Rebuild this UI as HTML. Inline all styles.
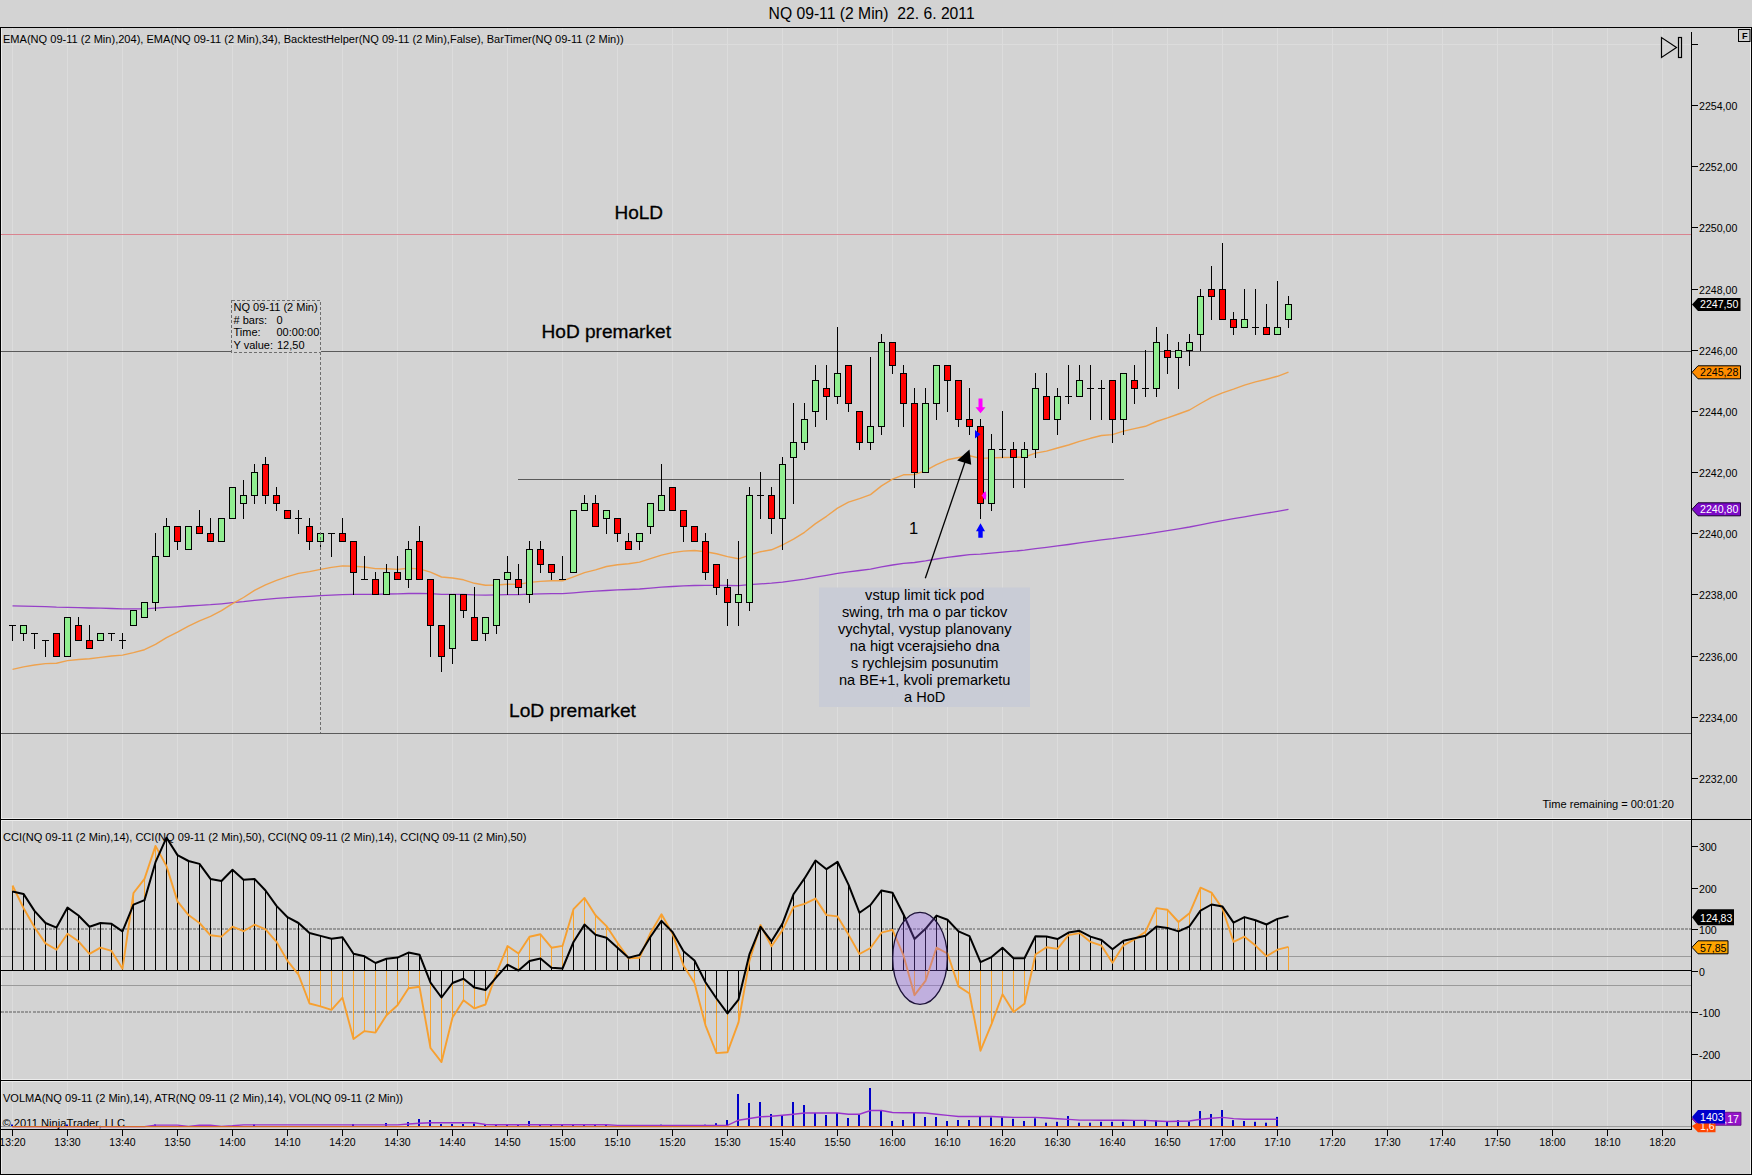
<!DOCTYPE html>
<html><head><meta charset="utf-8"><title>NQ 09-11 (2 Min)</title>
<style>html,body{margin:0;padding:0;background:#d3d3d3;}body{width:1752px;height:1175px;overflow:hidden;}svg{display:block;}text{font-family:"Liberation Sans", Arial, sans-serif;}</style>
</head><body>
<svg width="1752" height="1175" viewBox="0 0 1752 1175">
<rect x="0" y="0" width="1752" height="1175" fill="#d3d3d3"/>
<text x="871.6" y="18.5" font-size="15.7" text-anchor="middle" fill="#000" xml:space="preserve" style="white-space:pre">NQ 09-11 (2 Min)  22. 6. 2011</text>
<path d="M12.5 28V819M12.5 820V1080M12.5 1081V1129M67.5 28V819M67.5 820V1080M67.5 1081V1129M122.5 28V819M122.5 820V1080M122.5 1081V1129M177.5 28V819M177.5 820V1080M177.5 1081V1129M232.5 28V819M232.5 820V1080M232.5 1081V1129M287.5 28V819M287.5 820V1080M287.5 1081V1129M342.5 28V819M342.5 820V1080M342.5 1081V1129M397.5 28V819M397.5 820V1080M397.5 1081V1129M452.5 28V819M452.5 820V1080M452.5 1081V1129M507.5 28V819M507.5 820V1080M507.5 1081V1129M562.5 28V819M562.5 820V1080M562.5 1081V1129M617.5 28V819M617.5 820V1080M617.5 1081V1129M672.5 28V819M672.5 820V1080M672.5 1081V1129M727.5 28V819M727.5 820V1080M727.5 1081V1129M782.5 28V819M782.5 820V1080M782.5 1081V1129M837.5 28V819M837.5 820V1080M837.5 1081V1129M892.5 28V819M892.5 820V1080M892.5 1081V1129M947.5 28V819M947.5 820V1080M947.5 1081V1129M1002.5 28V819M1002.5 820V1080M1002.5 1081V1129M1057.5 28V819M1057.5 820V1080M1057.5 1081V1129M1112.5 28V819M1112.5 820V1080M1112.5 1081V1129M1167.5 28V819M1167.5 820V1080M1167.5 1081V1129M1222.5 28V819M1222.5 820V1080M1222.5 1081V1129M1277.5 28V819M1277.5 820V1080M1277.5 1081V1129M1332.5 28V819M1332.5 820V1080M1332.5 1081V1129M1387.5 28V819M1387.5 820V1080M1387.5 1081V1129M1442.5 28V819M1442.5 820V1080M1442.5 1081V1129M1497.5 28V819M1497.5 820V1080M1497.5 1081V1129M1552.5 28V819M1552.5 820V1080M1552.5 1081V1129M1607.5 28V819M1607.5 820V1080M1607.5 1081V1129M1662.5 28V819M1662.5 820V1080M1662.5 1081V1129" stroke="#dcdcdc" stroke-width="1" fill="none" shape-rendering="crispEdges"/>
<path d="M1 44.5H1691" stroke="#dcdcdc" stroke-width="1" shape-rendering="crispEdges"/>
<path d="M0 27.5H1752M0.5 27V1175M1751.5 27V1175M0 1174.5H1752" stroke="#000" stroke-width="1" fill="none" shape-rendering="crispEdges"/>
<path d="M1.5 28V1174M1750.5 28V1174M1 820.5H1691M1 1081.5H1691M1 818.5H1691M1 1079.5H1691" stroke="#ececec" stroke-width="1" fill="none" shape-rendering="crispEdges"/>
<path d="M0 819.5H1752M0 1080.5H1752M0 1129.5H1692" stroke="#000" stroke-width="1" shape-rendering="crispEdges"/>
<path d="M1691.5 32V1130" stroke="#000" stroke-width="1" shape-rendering="crispEdges"/>
<path d="M1691 778.5H1698M1691 717.5H1698M1691 656.5H1698M1691 594.5H1698M1691 533.5H1698M1691 472.5H1698M1691 411.5H1698M1691 350.5H1698M1691 289.5H1698M1691 227.5H1698M1691 166.5H1698M1691 105.5H1698M1691 44.5H1698" stroke="#000" stroke-width="1" shape-rendering="crispEdges"/>
<g font-size="10.6" fill="#000"><text x="1699" y="782.5">2232,00</text><text x="1699" y="721.5">2234,00</text><text x="1699" y="660.5">2236,00</text><text x="1699" y="598.5">2238,00</text><text x="1699" y="537.5">2240,00</text><text x="1699" y="476.5">2242,00</text><text x="1699" y="415.5">2244,00</text><text x="1699" y="354.5">2246,00</text><text x="1699" y="293.5">2248,00</text><text x="1699" y="231.5">2250,00</text><text x="1699" y="170.5">2252,00</text><text x="1699" y="109.5">2254,00</text></g>
<path d="M1691 846.5H1698M1691 888.5H1698M1691 929.5H1698M1691 971.5H1698M1691 1012.5H1698M1691 1054.5H1698" stroke="#000" stroke-width="1" shape-rendering="crispEdges"/>
<g font-size="10.6" fill="#000"><text x="1699" y="850.5">300</text><text x="1699" y="892.5">200</text><text x="1699" y="933.5">100</text><text x="1699" y="975.5">0</text><text x="1699" y="1016.5">-100</text><text x="1699" y="1058.5">-200</text></g>
<path d="M12.5 1130V1136M67.5 1130V1136M122.5 1130V1136M177.5 1130V1136M232.5 1130V1136M287.5 1130V1136M342.5 1130V1136M397.5 1130V1136M452.5 1130V1136M507.5 1130V1136M562.5 1130V1136M617.5 1130V1136M672.5 1130V1136M727.5 1130V1136M782.5 1130V1136M837.5 1130V1136M892.5 1130V1136M947.5 1130V1136M1002.5 1130V1136M1057.5 1130V1136M1112.5 1130V1136M1167.5 1130V1136M1222.5 1130V1136M1277.5 1130V1136M1332.5 1130V1136M1387.5 1130V1136M1442.5 1130V1136M1497.5 1130V1136M1552.5 1130V1136M1607.5 1130V1136M1662.5 1130V1136" stroke="#000" stroke-width="1" shape-rendering="crispEdges"/>
<g font-size="10.5" fill="#000"><text x="12.5" y="1145.8" text-anchor="middle">13:20</text><text x="67.5" y="1145.8" text-anchor="middle">13:30</text><text x="122.5" y="1145.8" text-anchor="middle">13:40</text><text x="177.5" y="1145.8" text-anchor="middle">13:50</text><text x="232.5" y="1145.8" text-anchor="middle">14:00</text><text x="287.5" y="1145.8" text-anchor="middle">14:10</text><text x="342.5" y="1145.8" text-anchor="middle">14:20</text><text x="397.5" y="1145.8" text-anchor="middle">14:30</text><text x="452.5" y="1145.8" text-anchor="middle">14:40</text><text x="507.5" y="1145.8" text-anchor="middle">14:50</text><text x="562.5" y="1145.8" text-anchor="middle">15:00</text><text x="617.5" y="1145.8" text-anchor="middle">15:10</text><text x="672.5" y="1145.8" text-anchor="middle">15:20</text><text x="727.5" y="1145.8" text-anchor="middle">15:30</text><text x="782.5" y="1145.8" text-anchor="middle">15:40</text><text x="837.5" y="1145.8" text-anchor="middle">15:50</text><text x="892.5" y="1145.8" text-anchor="middle">16:00</text><text x="947.5" y="1145.8" text-anchor="middle">16:10</text><text x="1002.5" y="1145.8" text-anchor="middle">16:20</text><text x="1057.5" y="1145.8" text-anchor="middle">16:30</text><text x="1112.5" y="1145.8" text-anchor="middle">16:40</text><text x="1167.5" y="1145.8" text-anchor="middle">16:50</text><text x="1222.5" y="1145.8" text-anchor="middle">17:00</text><text x="1277.5" y="1145.8" text-anchor="middle">17:10</text><text x="1332.5" y="1145.8" text-anchor="middle">17:20</text><text x="1387.5" y="1145.8" text-anchor="middle">17:30</text><text x="1442.5" y="1145.8" text-anchor="middle">17:40</text><text x="1497.5" y="1145.8" text-anchor="middle">17:50</text><text x="1552.5" y="1145.8" text-anchor="middle">18:00</text><text x="1607.5" y="1145.8" text-anchor="middle">18:10</text><text x="1662.5" y="1145.8" text-anchor="middle">18:20</text></g>
<text x="3" y="43" font-size="11.05" fill="#000">EMA(NQ 09-11 (2 Min),204), EMA(NQ 09-11 (2 Min),34), BacktestHelper(NQ 09-11 (2 Min),False), BarTimer(NQ 09-11 (2 Min))</text>
<text x="3" y="840.5" font-size="11.05" fill="#000">CCI(NQ 09-11 (2 Min),14), CCI(NQ 09-11 (2 Min),50), CCI(NQ 09-11 (2 Min),14), CCI(NQ 09-11 (2 Min),50)</text>
<text x="3" y="1101.5" font-size="11.05" fill="#000">VOLMA(NQ 09-11 (2 Min),14), ATR(NQ 09-11 (2 Min),14), VOL(NQ 09-11 (2 Min))</text>
<text x="2.5" y="1126.6" font-size="11.2" fill="#000">© 2011 NinjaTrader, LLC</text>
<text x="1542.5" y="807.7" font-size="11.05" fill="#000">Time remaining = 00:01:20</text>
<path d="M1 234.5H1691" stroke="#d9838f" stroke-width="1" shape-rendering="crispEdges"/>
<path d="M1 351.5H231M321 351.5H1691" stroke="#5a5a5a" stroke-width="1" shape-rendering="crispEdges"/>
<path d="M518 479.5H1124" stroke="#5a5a5a" stroke-width="1" shape-rendering="crispEdges"/>
<path d="M1 733.5H1691" stroke="#5a5a5a" stroke-width="1" shape-rendering="crispEdges"/>
<g fill="#000" stroke="#000" stroke-width="0.3">
<text x="614.5" y="219.3" font-size="19">HoLD</text>
<text x="541.5" y="337.5" font-size="19.1">HoD premarket</text>
<text x="509" y="716.6" font-size="19.2">LoD premarket</text>
</g>
<polyline points="12.5,605.9 23.5,606.1 34.5,606.3 45.5,606.7 56.5,607.2 67.5,607.3 78.5,607.6 89.5,608.0 100.5,608.2 111.5,608.5 122.5,608.8 133.5,608.8 144.5,608.8 155.5,608.2 166.5,607.4 177.5,606.8 188.5,606.0 199.5,605.3 210.5,604.7 221.5,603.8 232.5,602.7 243.5,601.7 254.5,600.4 265.5,599.4 276.5,598.4 287.5,597.7 298.5,596.9 309.5,596.4 320.5,595.7 331.5,595.1 342.5,594.6 353.5,594.4 364.5,594.3 375.5,594.3 386.5,594.0 397.5,593.9 408.5,593.5 419.5,593.3 430.5,593.6 441.5,594.3 452.5,594.3 463.5,594.4 474.5,594.9 485.5,595.1 496.5,594.9 507.5,594.7 518.5,594.6 529.5,594.2 540.5,593.9 551.5,593.7 562.5,593.6 573.5,592.8 584.5,591.9 595.5,591.2 606.5,590.5 617.5,589.9 628.5,589.5 639.5,589.0 650.5,588.1 661.5,587.2 672.5,586.5 683.5,585.9 694.5,585.5 705.5,585.3 716.5,585.3 727.5,585.5 738.5,585.6 749.5,584.7 760.5,583.9 771.5,583.2 782.5,582.1 793.5,580.7 804.5,579.1 815.5,577.2 826.5,575.4 837.5,573.4 848.5,571.8 859.5,570.5 870.5,569.1 881.5,566.9 892.5,565.0 903.5,563.4 914.5,562.5 925.5,560.9 936.5,559.0 947.5,557.3 958.5,556.0 969.5,554.7 980.5,554.2 991.5,553.2 1002.5,552.2 1013.5,551.2 1024.5,550.2 1035.5,548.7 1046.5,547.4 1057.5,545.9 1068.5,544.5 1079.5,542.9 1090.5,541.4 1101.5,539.9 1112.5,538.7 1123.5,537.1 1134.5,535.6 1145.5,534.2 1156.5,532.3 1167.5,530.6 1178.5,528.9 1189.5,527.0 1200.5,524.8 1211.5,522.6 1222.5,520.6 1233.5,518.7 1244.5,516.8 1255.5,514.9 1266.5,513.2 1277.5,511.3 1288.5,509.3" fill="none" stroke="#9640c8" stroke-width="1.3" stroke-linejoin="round"/>
<polyline points="12.5,669.4 23.5,666.9 34.5,665.0 45.5,663.6 56.5,663.2 67.5,660.6 78.5,659.5 89.5,658.8 100.5,657.4 111.5,656.0 122.5,655.1 133.5,652.6 144.5,649.7 155.5,644.4 166.5,637.6 177.5,632.1 188.5,626.1 199.5,620.8 210.5,616.3 221.5,610.7 232.5,603.7 243.5,597.5 254.5,590.4 265.5,584.9 276.5,580.3 287.5,576.7 298.5,573.4 309.5,571.6 320.5,569.4 331.5,567.4 342.5,565.9 353.5,566.3 364.5,567.0 375.5,568.6 386.5,568.8 397.5,569.4 408.5,568.3 419.5,568.9 430.5,572.2 441.5,577.0 452.5,578.0 463.5,579.8 474.5,583.3 485.5,585.3 496.5,585.0 507.5,584.2 518.5,584.4 529.5,582.4 540.5,581.4 551.5,580.8 562.5,580.8 573.5,576.8 584.5,572.6 595.5,569.9 606.5,566.5 617.5,564.7 628.5,563.8 639.5,562.1 650.5,558.7 661.5,555.1 672.5,552.6 683.5,551.1 694.5,550.5 705.5,551.7 716.5,553.8 727.5,556.6 738.5,558.8 749.5,555.1 760.5,551.7 771.5,549.8 782.5,545.0 793.5,539.1 804.5,532.3 815.5,523.6 826.5,516.3 837.5,508.1 848.5,502.2 859.5,498.7 870.5,494.6 881.5,485.9 892.5,479.1 903.5,474.8 914.5,474.6 925.5,470.6 936.5,464.6 947.5,459.8 958.5,457.5 969.5,455.7 980.5,458.4 991.5,457.9 1002.5,457.5 1013.5,457.4 1024.5,457.0 1035.5,453.1 1046.5,451.1 1057.5,448.0 1068.5,445.0 1079.5,441.4 1090.5,438.3 1101.5,435.5 1112.5,434.6 1123.5,431.1 1134.5,428.6 1145.5,426.3 1156.5,421.5 1167.5,417.9 1178.5,414.0 1189.5,410.0 1200.5,403.5 1211.5,397.4 1222.5,392.9 1233.5,389.2 1244.5,385.2 1255.5,381.9 1266.5,379.2 1277.5,376.3 1288.5,372.1" fill="none" stroke="#eea24e" stroke-width="1.4" stroke-linejoin="round"/>
<path d="M12.5 625.5V641.0M23.5 633.5V641.0M34.5 633.5V649.0M45.5 640.5V657.0M78.5 617.0V625.5M89.5 625.0V640.5M111.5 633.5V641.0M122.5 633.0V640.5M122.5 640.5V649.0M155.5 533.0V556.5M155.5 602.5V611.0M166.5 518.0V526.5M177.5 541.5V550.0M199.5 510.0V526.5M210.5 518.0V533.5M243.5 480.0V495.5M243.5 503.5V519.0M254.5 464.0V472.5M254.5 495.5V504.0M265.5 457.0V464.5M265.5 495.5V504.0M276.5 487.0V495.5M276.5 503.5V511.0M298.5 510.0V518.5M298.5 518.5V534.0M309.5 518.0V526.5M309.5 541.5V550.0M320.5 541.5V550.0M331.5 533.5V557.0M342.5 518.0V533.5M353.5 572.5V595.0M364.5 556.0V579.5M375.5 572.0V579.5M386.5 564.0V572.5M397.5 556.0V572.5M408.5 541.0V549.5M408.5 579.5V588.0M419.5 526.0V541.5M430.5 625.5V657.0M441.5 656.5V672.0M452.5 648.5V664.0M463.5 610.5V618.0M474.5 587.0V617.5M485.5 633.5V641.0M496.5 625.5V634.0M507.5 556.0V572.5M507.5 579.5V595.0M518.5 564.0V579.5M518.5 587.5V595.0M529.5 541.0V549.5M529.5 594.5V603.0M540.5 541.0V549.5M540.5 564.5V573.0M551.5 572.5V580.0M562.5 556.0V579.5M584.5 495.0V503.5M595.5 495.0V503.5M606.5 518.5V534.0M617.5 533.5V542.0M628.5 533.0V541.5M639.5 541.5V550.0M650.5 526.5V534.0M661.5 464.0V495.5M683.5 526.5V542.0M705.5 533.0V541.5M705.5 572.5V580.0M716.5 587.5V595.0M727.5 579.0V587.5M727.5 602.5V626.0M738.5 541.0V594.5M738.5 602.5V626.0M749.5 487.0V495.5M749.5 602.5V611.0M760.5 472.0V495.5M760.5 495.5V519.0M771.5 487.0V495.5M771.5 518.5V534.0M782.5 457.0V464.5M782.5 518.5V550.0M793.5 403.0V442.5M793.5 457.5V504.0M804.5 403.0V419.5M804.5 442.5V450.0M815.5 365.0V380.5M815.5 411.5V427.0M826.5 365.0V388.5M826.5 396.5V420.0M837.5 327.0V373.5M837.5 396.5V404.0M848.5 403.5V412.0M859.5 442.5V450.0M870.5 357.0V426.5M870.5 442.5V450.0M881.5 334.0V342.5M881.5 426.5V435.0M892.5 365.5V374.0M903.5 365.0V373.5M903.5 403.5V427.0M914.5 388.0V403.5M914.5 472.5V488.0M925.5 388.0V403.5M936.5 403.5V420.0M947.5 380.5V412.0M958.5 419.5V427.0M969.5 388.0V419.5M969.5 426.5V435.0M980.5 419.0V426.5M980.5 503.5V519.0M991.5 434.0V449.5M991.5 503.5V511.0M1002.5 411.0V449.5M1002.5 449.5V458.0M1013.5 442.0V449.5M1013.5 457.5V488.0M1024.5 442.0V449.5M1024.5 457.5V488.0M1035.5 373.0V388.5M1035.5 449.5V458.0M1046.5 373.0V396.5M1057.5 388.0V396.5M1057.5 419.5V435.0M1068.5 365.0V396.5M1068.5 396.5V404.0M1079.5 365.0V380.5M1090.5 365.0V388.5M1090.5 388.5V420.0M1101.5 380.0V388.5M1101.5 388.5V420.0M1112.5 419.5V443.0M1123.5 419.5V435.0M1134.5 365.0V380.5M1134.5 388.5V404.0M1145.5 350.0V388.5M1145.5 388.5V397.0M1156.5 327.0V342.5M1156.5 388.5V397.0M1167.5 334.0V350.5M1167.5 357.5V374.0M1178.5 342.0V350.5M1178.5 357.5V389.0M1189.5 334.0V342.5M1189.5 350.5V366.0M1200.5 289.0V296.5M1200.5 334.5V351.0M1211.5 266.0V289.5M1211.5 296.5V320.0M1222.5 243.0V289.5M1233.5 312.0V319.5M1233.5 327.5V335.0M1244.5 289.0V319.5M1255.5 289.0V327.5M1255.5 327.5V335.0M1266.5 304.0V327.5M1277.5 281.0V327.5M1288.5 296.0V304.5M1288.5 319.5V328.0M9.0 625.5H16.0M31.0 633.5H38.0M42.0 640.5H49.0M108.0 633.5H115.0M119.0 640.5H126.0M295.0 518.5H302.0M328.0 533.5H335.0M361.0 579.5H368.0M559.0 579.5H566.0M757.0 495.5H764.0M999.0 449.5H1006.0M1065.0 396.5H1072.0M1087.0 388.5H1094.0M1098.0 388.5H1105.0M1142.0 388.5H1149.0M1252.0 327.5H1259.0" stroke="#000" stroke-width="1" fill="none" shape-rendering="crispEdges"/>
<g fill="#90ee90" stroke="#000" stroke-width="1" shape-rendering="crispEdges"><rect x="20.5" y="625.5" width="6" height="8.0"/><rect x="64.5" y="617.5" width="6" height="39.0"/><rect x="97.5" y="633.5" width="6" height="7.0"/><rect x="130.5" y="610.5" width="6" height="15.0"/><rect x="141.5" y="602.5" width="6" height="15.0"/><rect x="152.5" y="556.5" width="6" height="46.0"/><rect x="163.5" y="526.5" width="6" height="30.0"/><rect x="185.5" y="526.5" width="6" height="23.0"/><rect x="218.5" y="518.5" width="6" height="23.0"/><rect x="229.5" y="487.5" width="6" height="31.0"/><rect x="240.5" y="495.5" width="6" height="8.0"/><rect x="251.5" y="472.5" width="6" height="23.0"/><rect x="317.5" y="533.5" width="6" height="8.0"/><rect x="383.5" y="572.5" width="6" height="22.0"/><rect x="405.5" y="549.5" width="6" height="30.0"/><rect x="449.5" y="594.5" width="6" height="54.0"/><rect x="482.5" y="617.5" width="6" height="16.0"/><rect x="493.5" y="579.5" width="6" height="46.0"/><rect x="504.5" y="572.5" width="6" height="7.0"/><rect x="526.5" y="549.5" width="6" height="45.0"/><rect x="570.5" y="510.5" width="6" height="62.0"/><rect x="581.5" y="503.5" width="6" height="7.0"/><rect x="603.5" y="510.5" width="6" height="8.0"/><rect x="636.5" y="533.5" width="6" height="8.0"/><rect x="647.5" y="503.5" width="6" height="23.0"/><rect x="658.5" y="495.5" width="6" height="15.0"/><rect x="735.5" y="594.5" width="6" height="8.0"/><rect x="746.5" y="495.5" width="6" height="107.0"/><rect x="779.5" y="464.5" width="6" height="54.0"/><rect x="790.5" y="442.5" width="6" height="15.0"/><rect x="801.5" y="419.5" width="6" height="23.0"/><rect x="812.5" y="380.5" width="6" height="31.0"/><rect x="834.5" y="373.5" width="6" height="23.0"/><rect x="867.5" y="426.5" width="6" height="16.0"/><rect x="878.5" y="342.5" width="6" height="84.0"/><rect x="922.5" y="403.5" width="6" height="69.0"/><rect x="933.5" y="365.5" width="6" height="38.0"/><rect x="988.5" y="449.5" width="6" height="54.0"/><rect x="1021.5" y="449.5" width="6" height="8.0"/><rect x="1032.5" y="388.5" width="6" height="61.0"/><rect x="1054.5" y="396.5" width="6" height="23.0"/><rect x="1076.5" y="380.5" width="6" height="16.0"/><rect x="1120.5" y="373.5" width="6" height="46.0"/><rect x="1153.5" y="342.5" width="6" height="46.0"/><rect x="1175.5" y="350.5" width="6" height="7.0"/><rect x="1186.5" y="342.5" width="6" height="8.0"/><rect x="1197.5" y="296.5" width="6" height="38.0"/><rect x="1241.5" y="319.5" width="6" height="8.0"/><rect x="1274.5" y="327.5" width="6" height="7.0"/><rect x="1285.5" y="304.5" width="6" height="15.0"/></g>
<g fill="#ff0000" stroke="#000" stroke-width="1" shape-rendering="crispEdges"><rect x="53.5" y="633.5" width="6" height="23.0"/><rect x="75.5" y="625.5" width="6" height="15.0"/><rect x="86.5" y="640.5" width="6" height="8.0"/><rect x="174.5" y="526.5" width="6" height="15.0"/><rect x="196.5" y="526.5" width="6" height="7.0"/><rect x="207.5" y="533.5" width="6" height="8.0"/><rect x="262.5" y="464.5" width="6" height="31.0"/><rect x="273.5" y="495.5" width="6" height="8.0"/><rect x="284.5" y="510.5" width="6" height="8.0"/><rect x="306.5" y="526.5" width="6" height="15.0"/><rect x="339.5" y="533.5" width="6" height="8.0"/><rect x="350.5" y="541.5" width="6" height="31.0"/><rect x="372.5" y="579.5" width="6" height="15.0"/><rect x="394.5" y="572.5" width="6" height="7.0"/><rect x="416.5" y="541.5" width="6" height="38.0"/><rect x="427.5" y="579.5" width="6" height="46.0"/><rect x="438.5" y="625.5" width="6" height="31.0"/><rect x="460.5" y="594.5" width="6" height="16.0"/><rect x="471.5" y="617.5" width="6" height="23.0"/><rect x="515.5" y="579.5" width="6" height="8.0"/><rect x="537.5" y="549.5" width="6" height="15.0"/><rect x="548.5" y="564.5" width="6" height="8.0"/><rect x="592.5" y="503.5" width="6" height="23.0"/><rect x="614.5" y="518.5" width="6" height="15.0"/><rect x="625.5" y="541.5" width="6" height="8.0"/><rect x="669.5" y="487.5" width="6" height="23.0"/><rect x="680.5" y="510.5" width="6" height="16.0"/><rect x="691.5" y="526.5" width="6" height="15.0"/><rect x="702.5" y="541.5" width="6" height="31.0"/><rect x="713.5" y="564.5" width="6" height="23.0"/><rect x="724.5" y="587.5" width="6" height="15.0"/><rect x="768.5" y="495.5" width="6" height="23.0"/><rect x="823.5" y="388.5" width="6" height="8.0"/><rect x="845.5" y="365.5" width="6" height="38.0"/><rect x="856.5" y="411.5" width="6" height="31.0"/><rect x="889.5" y="342.5" width="6" height="23.0"/><rect x="900.5" y="373.5" width="6" height="30.0"/><rect x="911.5" y="403.5" width="6" height="69.0"/><rect x="944.5" y="365.5" width="6" height="15.0"/><rect x="955.5" y="380.5" width="6" height="39.0"/><rect x="966.5" y="419.5" width="6" height="7.0"/><rect x="977.5" y="426.5" width="6" height="77.0"/><rect x="1010.5" y="449.5" width="6" height="8.0"/><rect x="1043.5" y="396.5" width="6" height="23.0"/><rect x="1109.5" y="380.5" width="6" height="39.0"/><rect x="1131.5" y="380.5" width="6" height="8.0"/><rect x="1164.5" y="350.5" width="6" height="7.0"/><rect x="1208.5" y="289.5" width="6" height="7.0"/><rect x="1219.5" y="289.5" width="6" height="30.0"/><rect x="1230.5" y="319.5" width="6" height="8.0"/><rect x="1263.5" y="327.5" width="6" height="7.0"/></g>
<rect x="231.5" y="300.5" width="89" height="52" fill="#d3d3d3" stroke="#6e6e6e" stroke-width="1" stroke-dasharray="3,2" shape-rendering="crispEdges"/>
<path d="M320.5 352V733" stroke="#6e6e6e" stroke-width="1" stroke-dasharray="3,2" shape-rendering="crispEdges"/>
<g font-size="11" fill="#000"><text x="233.5" y="310.7">NQ 09-11 (2 Min)</text><text x="233.5" y="323.6"># bars:</text><text x="276.5" y="323.6">0</text><text x="233.5" y="336.4">Time:</text><text x="276.5" y="336.4">00:00:00</text><text x="233.5" y="349.3">Y value:</text><text x="277" y="349.3">12,50</text></g>
<rect x="819" y="587.5" width="211" height="119.5" fill="#c9ccd6"/>
<g font-size="14.6" fill="#000"><text x="924.7" y="599.5" text-anchor="middle">vstup limit tick pod</text><text x="924.7" y="616.6" text-anchor="middle">swing, trh ma o par tickov</text><text x="924.7" y="633.7" text-anchor="middle">vychytal, vystup planovany</text><text x="924.7" y="650.8" text-anchor="middle">na higt vcerajsieho dna</text><text x="924.7" y="667.9" text-anchor="middle">s rychlejsim posunutim</text><text x="924.7" y="685.0" text-anchor="middle">na BE+1, kvoli premarketu</text><text x="924.7" y="702.1" text-anchor="middle">a HoD</text></g>
<path d="M925.3 578.3L965 462" stroke="#000" stroke-width="1.3"/>
<path d="M969.5 449.5L957.2 460.4L971.2 464.7Z" fill="#000"/>
<text x="909" y="534.2" font-size="16.5" fill="#000">1</text>
<path d="M978.5 398.6h4v8.6h3l-5 6l-5-6h3z" fill="#ff00ff"/>
<path d="M976 531.3l4.5-8l4.5 8h-2.3v6.5h-4.4v-6.5z" fill="#0000ff"/>
<path d="M975 430l5.5 4.3l-5.5 4.3z" fill="#0000ff"/>
<path d="M985.8 491.3l-4.3 4.3l4.3 4.3z" fill="#ff00ff"/><ellipse cx="984.6" cy="495.6" rx="1.6" ry="3.6" fill="#ff00ff"/>
<path d="M1661.5 37.5V57.5L1676.5 47.5Z" fill="none" stroke="#000" stroke-width="1.2"/>
<rect x="1678.5" y="37.5" width="3" height="20" fill="none" stroke="#000" stroke-width="1.2"/>
<rect x="1738.5" y="29.5" width="11.5" height="12" fill="none" stroke="#000" stroke-width="1"/>
<text x="1742" y="38.6" font-size="9.2" font-weight="bold" fill="#000">F</text>
<path d="M1692.0 304.4L1698.0 297.9H1740.5V310.9H1698.0Z" fill="#000"/><text x="1700.0" y="308.4" font-size="10.6" fill="#fff">2247,50</text>
<path d="M1692.0 372.3L1698.0 365.8H1740.5V378.8H1698.0Z" fill="#ff8c00" stroke="#000" stroke-width="1"/><text x="1700.0" y="376.3" font-size="10.6" fill="#000">2245,28</text>
<path d="M1692.0 509.3L1698.0 502.8H1740.5V515.8H1698.0Z" fill="#7d0ac8" stroke="#1a0030" stroke-width="1"/><text x="1700.0" y="513.3" font-size="10.6" fill="#fff">2240,80</text>
<path d="M1 929H1691M1 1012H1691" stroke="#979797" stroke-width="2" stroke-dasharray="2.5,1.5" shape-rendering="crispEdges"/>
<path d="M1 956.5H1691M1 985.5H1691" stroke="#9a9a9a" stroke-width="1" shape-rendering="crispEdges"/>
<path d="M12.0 970.9V885.5M23.0 970.9V908.0M34.0 970.9V927.2M45.0 970.9V943.4M56.0 970.9V949.7M67.0 970.9V933.8M78.0 970.9V941.3M89.0 970.9V953.8M100.0 970.9V947.6M111.0 970.9V950.9M122.0 970.9V968.8M133.0 970.9V893.0M144.0 970.9V878.9M155.0 970.9V845.9M166.0 970.9V866.1M177.0 970.9V901.4M188.0 970.9V915.1M199.0 970.9V923.0M210.0 970.9V935.3M221.0 970.9V936.6M232.0 970.9V926.7M243.0 970.9V931.2M254.0 970.9V924.7M265.0 970.9V929.3M276.0 970.9V941.8M287.0 970.9V960.9M298.0 970.9V974.6M309.0 970.9V1003.5M320.0 970.9V1006.4M331.0 970.9V1009.8M342.0 970.9V997.7M353.0 970.9V1039.0M364.0 970.9V1031.1M375.0 970.9V1032.6M386.0 970.9V1015.2M397.0 970.9V1005.3M408.0 970.9V988.2M419.0 970.9V986.8M430.0 970.9V1048.0M441.0 970.9V1062.1M452.0 970.9V1017.4M463.0 970.9V1000.3M474.0 970.9V1008.4M485.0 970.9V1004.5M496.0 970.9V972.8M507.0 970.9V946.1M518.0 970.9V953.5M529.0 970.9V936.7M540.0 970.9V934.3M551.0 970.9V947.7M562.0 970.9V945.9M573.0 970.9V909.2M584.0 970.9V897.9M595.0 970.9V915.3M606.0 970.9V926.1M617.0 970.9V942.8M628.0 970.9V958.4M639.0 970.9V957.8M650.0 970.9V932.9M661.0 970.9V914.3M672.0 970.9V933.8M683.0 970.9V965.6M694.0 970.9V983.1M705.0 970.9V1025.3M716.0 970.9V1053.1M727.0 970.9V1052.2M738.0 970.9V1022.4M749.0 970.9V960.6M760.0 970.9V925.0M771.0 970.9V946.3M782.0 970.9V930.1M793.0 970.9V907.2M804.0 970.9V903.8M815.0 970.9V898.6M826.0 970.9V915.1M837.0 970.9V916.4M848.0 970.9V934.6M859.0 970.9V954.0M870.0 970.9V948.0M881.0 970.9V932.7M892.0 970.9V929.8M903.0 970.9V955.4M914.0 970.9V995.2M925.0 970.9V980.9M936.0 970.9V947.7M947.0 970.9V953.5M958.0 970.9V986.4M969.0 970.9V993.5M980.0 970.9V1050.7M991.0 970.9V1024.1M1002.0 970.9V994.3M1013.0 970.9V1012.0M1024.0 970.9V1003.7M1035.0 970.9V954.5M1046.0 970.9V947.3M1057.0 970.9V948.9M1068.0 970.9V935.1M1079.0 970.9V933.1M1090.0 970.9V941.9M1101.0 970.9V945.7M1112.0 970.9V962.8M1123.0 970.9V945.3M1134.0 970.9V939.4M1145.0 970.9V931.7M1156.0 970.9V908.1M1167.0 970.9V909.8M1178.0 970.9V922.0M1189.0 970.9V913.3M1200.0 970.9V887.7M1211.0 970.9V892.6M1222.0 970.9V908.8M1233.0 970.9V941.8M1244.0 970.9V936.7M1255.0 970.9V945.6M1266.0 970.9V956.3M1277.0 970.9V949.7M1288.0 970.9V946.8" stroke="#f7a530" stroke-width="1" fill="none" shape-rendering="crispEdges"/>
<path d="M12.0 970.9V891.4M23.0 970.9V893.9M34.0 970.9V910.9M45.0 970.9V923.0M56.0 970.9V927.6M67.0 970.9V907.6M78.0 970.9V915.5M89.0 970.9V926.8M100.0 970.9V923.0M111.0 970.9V923.8M122.0 970.9V931.3M133.0 970.9V904.7M144.0 970.9V900.1M155.0 970.9V862.2M166.0 970.9V837.7M177.0 970.9V855.1M188.0 970.9V861.0M199.0 970.9V863.9M210.0 970.9V878.9M221.0 970.9V881.0M232.0 970.9V869.7M243.0 970.9V879.7M254.0 970.9V878.9M265.0 970.9V890.5M276.0 970.9V905.9M287.0 970.9V917.2M298.0 970.9V923.0M309.0 970.9V933.0M320.0 970.9V935.9M331.0 970.9V938.8M342.0 970.9V937.2M353.0 970.9V953.8M364.0 970.9V956.3M375.0 970.9V963.0M386.0 970.9V958.8M397.0 970.9V957.6M408.0 970.9V952.6M419.0 970.9V954.7M430.0 970.9V982.6M441.0 970.9V997.5M452.0 970.9V983.0M463.0 970.9V978.8M474.0 970.9V987.6M485.0 970.9V990.1M496.0 970.9V977.1M507.0 970.9V964.7M518.0 970.9V970.5M529.0 970.9V960.9M540.0 970.9V958.4M551.0 970.9V967.8M562.0 970.9V968.5M573.0 970.9V942.0M584.0 970.9V924.6M595.0 970.9V934.7M606.0 970.9V937.7M617.0 970.9V947.7M628.0 970.9V957.7M639.0 970.9V954.9M650.0 970.9V936.8M661.0 970.9V920.9M672.0 970.9V932.0M683.0 970.9V951.2M694.0 970.9V960.5M705.0 970.9V982.3M716.0 970.9V998.5M727.0 970.9V1013.4M738.0 970.9V999.6M749.0 970.9V954.1M760.0 970.9V926.8M771.0 970.9V941.3M782.0 970.9V923.6M793.0 970.9V894.3M804.0 970.9V878.4M815.0 970.9V860.5M826.0 970.9V869.2M837.0 970.9V861.8M848.0 970.9V884.6M859.0 970.9V912.8M870.0 970.9V905.0M881.0 970.9V890.4M892.0 970.9V892.8M903.0 970.9V914.5M914.0 970.9V939.0M925.0 970.9V928.8M936.0 970.9V915.6M947.0 970.9V919.8M958.0 970.9V931.4M969.0 970.9V936.1M980.0 970.9V962.1M991.0 970.9V957.1M1002.0 970.9V947.7M1013.0 970.9V958.3M1024.0 970.9V958.3M1035.0 970.9V936.3M1046.0 970.9V936.6M1057.0 970.9V939.1M1068.0 970.9V932.6M1079.0 970.9V930.8M1090.0 970.9V936.6M1101.0 970.9V940.0M1112.0 970.9V949.2M1123.0 970.9V940.7M1134.0 970.9V938.3M1145.0 970.9V935.8M1156.0 970.9V926.4M1167.0 970.9V927.9M1178.0 970.9V931.4M1189.0 970.9V926.3M1200.0 970.9V910.6M1211.0 970.9V904.5M1222.0 970.9V906.6M1233.0 970.9V922.6M1244.0 970.9V917.1M1255.0 970.9V920.2M1266.0 970.9V924.5M1277.0 970.9V918.9" stroke="#000" stroke-width="1" fill="none" shape-rendering="crispEdges"/>
<path d="M1 970.5H1691" stroke="#000" stroke-width="1" shape-rendering="crispEdges"/>
<polyline points="12.5,885.5 23.5,908.0 34.5,927.2 45.5,943.4 56.5,949.7 67.5,933.8 78.5,941.3 89.5,953.8 100.5,947.6 111.5,950.9 122.5,968.8 133.5,893.0 144.5,878.9 155.5,845.9 166.5,866.1 177.5,901.4 188.5,915.1 199.5,923.0 210.5,935.3 221.5,936.6 232.5,926.7 243.5,931.2 254.5,924.7 265.5,929.3 276.5,941.8 287.5,960.9 298.5,974.6 309.5,1003.5 320.5,1006.4 331.5,1009.8 342.5,997.7 353.5,1039.0 364.5,1031.1 375.5,1032.6 386.5,1015.2 397.5,1005.3 408.5,988.2 419.5,986.8 430.5,1048.0 441.5,1062.1 452.5,1017.4 463.5,1000.3 474.5,1008.4 485.5,1004.5 496.5,972.8 507.5,946.1 518.5,953.5 529.5,936.7 540.5,934.3 551.5,947.7 562.5,945.9 573.5,909.2 584.5,897.9 595.5,915.3 606.5,926.1 617.5,942.8 628.5,958.4 639.5,957.8 650.5,932.9 661.5,914.3 672.5,933.8 683.5,965.6 694.5,983.1 705.5,1025.3 716.5,1053.1 727.5,1052.2 738.5,1022.4 749.5,960.6 760.5,925.0 771.5,946.3 782.5,930.1 793.5,907.2 804.5,903.8 815.5,898.6 826.5,915.1 837.5,916.4 848.5,934.6 859.5,954.0 870.5,948.0 881.5,932.7 892.5,929.8 903.5,955.4 914.5,995.2 925.5,980.9 936.5,947.7 947.5,953.5 958.5,986.4 969.5,993.5 980.5,1050.7 991.5,1024.1 1002.5,994.3 1013.5,1012.0 1024.5,1003.7 1035.5,954.5 1046.5,947.3 1057.5,948.9 1068.5,935.1 1079.5,933.1 1090.5,941.9 1101.5,945.7 1112.5,962.8 1123.5,945.3 1134.5,939.4 1145.5,931.7 1156.5,908.1 1167.5,909.8 1178.5,922.0 1189.5,913.3 1200.5,887.7 1211.5,892.6 1222.5,908.8 1233.5,941.8 1244.5,936.7 1255.5,945.6 1266.5,956.3 1277.5,949.7 1288.5,946.8" fill="none" stroke="#f7a030" stroke-width="1.9" stroke-linejoin="round"/>
<polyline points="12.5,891.4 23.5,893.9 34.5,910.9 45.5,923.0 56.5,927.6 67.5,907.6 78.5,915.5 89.5,926.8 100.5,923.0 111.5,923.8 122.5,931.3 133.5,904.7 144.5,900.1 155.5,862.2 166.5,837.7 177.5,855.1 188.5,861.0 199.5,863.9 210.5,878.9 221.5,881.0 232.5,869.7 243.5,879.7 254.5,878.9 265.5,890.5 276.5,905.9 287.5,917.2 298.5,923.0 309.5,933.0 320.5,935.9 331.5,938.8 342.5,937.2 353.5,953.8 364.5,956.3 375.5,963.0 386.5,958.8 397.5,957.6 408.5,952.6 419.5,954.7 430.5,982.6 441.5,997.5 452.5,983.0 463.5,978.8 474.5,987.6 485.5,990.1 496.5,977.1 507.5,964.7 518.5,970.5 529.5,960.9 540.5,958.4 551.5,967.8 562.5,968.5 573.5,942.0 584.5,924.6 595.5,934.7 606.5,937.7 617.5,947.7 628.5,957.7 639.5,954.9 650.5,936.8 661.5,920.9 672.5,932.0 683.5,951.2 694.5,960.5 705.5,982.3 716.5,998.5 727.5,1013.4 738.5,999.6 749.5,954.1 760.5,926.8 771.5,941.3 782.5,923.6 793.5,894.3 804.5,878.4 815.5,860.5 826.5,869.2 837.5,861.8 848.5,884.6 859.5,912.8 870.5,905.0 881.5,890.4 892.5,892.8 903.5,914.5 914.5,939.0 925.5,928.8 936.5,915.6 947.5,919.8 958.5,931.4 969.5,936.1 980.5,962.1 991.5,957.1 1002.5,947.7 1013.5,958.3 1024.5,958.3 1035.5,936.3 1046.5,936.6 1057.5,939.1 1068.5,932.6 1079.5,930.8 1090.5,936.6 1101.5,940.0 1112.5,949.2 1123.5,940.7 1134.5,938.3 1145.5,935.8 1156.5,926.4 1167.5,927.9 1178.5,931.4 1189.5,926.3 1200.5,910.6 1211.5,904.5 1222.5,906.6 1233.5,922.6 1244.5,917.1 1255.5,920.2 1266.5,924.5 1277.5,918.9 1288.5,916.1" fill="none" stroke="#000" stroke-width="2" stroke-linejoin="round"/>
<ellipse cx="920" cy="958.3" rx="27.3" ry="46" fill="rgb(148,94,248)" fill-opacity="0.3" stroke="#1c1238" stroke-width="1.3"/>
<path d="M1692.0 917.3L1698.0 909.3H1734.0V925.3H1698.0Z" fill="#000"/><text x="1700.0" y="921.9" font-size="10.6" fill="#fff">124,83</text>
<path d="M1692.0 947.3L1698.0 940.8H1728.0V953.8H1698.0Z" fill="#ffa500" stroke="#000" stroke-width="1"/><text x="1700.0" y="951.9" font-size="10.6" fill="#000">57,85</text>
<path d="M1 1126.5H1691" stroke="#9a9a9a" stroke-width="1" shape-rendering="crispEdges"/>
<g fill="#0000c8"><rect x="11.0" y="1124.5" width="2" height="1.5"/><rect x="66.0" y="1124.5" width="2" height="1.5"/><rect x="154.0" y="1124.5" width="2" height="1.5"/><rect x="253.0" y="1124.5" width="2" height="1.5"/><rect x="352.0" y="1124.0" width="2" height="2.0"/><rect x="385.0" y="1123.0" width="2" height="3.0"/><rect x="407.0" y="1122.0" width="2" height="4.0"/><rect x="418.0" y="1119.0" width="2" height="7.0"/><rect x="429.0" y="1120.0" width="2" height="6.0"/><rect x="440.0" y="1124.0" width="2" height="2.0"/><rect x="451.0" y="1124.0" width="2" height="2.0"/><rect x="462.0" y="1124.0" width="2" height="2.0"/><rect x="473.0" y="1123.5" width="2" height="2.5"/><rect x="484.0" y="1124.7" width="2" height="1.3"/><rect x="495.0" y="1124.7" width="2" height="1.3"/><rect x="506.0" y="1124.7" width="2" height="1.3"/><rect x="517.0" y="1124.7" width="2" height="1.3"/><rect x="528.0" y="1121.0" width="2" height="5.0"/><rect x="539.0" y="1124.7" width="2" height="1.3"/><rect x="550.0" y="1124.7" width="2" height="1.3"/><rect x="561.0" y="1124.7" width="2" height="1.3"/><rect x="572.0" y="1124.7" width="2" height="1.3"/><rect x="583.0" y="1124.7" width="2" height="1.3"/><rect x="594.0" y="1124.7" width="2" height="1.3"/><rect x="605.0" y="1124.7" width="2" height="1.3"/><rect x="660.0" y="1124.7" width="2" height="1.3"/><rect x="704.0" y="1124.7" width="2" height="1.3"/><rect x="715.0" y="1123.2" width="2" height="2.8"/><rect x="726.0" y="1120.0" width="2" height="6.0"/><rect x="737.0" y="1094.0" width="2" height="32.0"/><rect x="748.0" y="1103.0" width="2" height="23.0"/><rect x="759.0" y="1102.0" width="2" height="24.0"/><rect x="770.0" y="1114.0" width="2" height="12.0"/><rect x="781.0" y="1115.0" width="2" height="11.0"/><rect x="792.0" y="1102.0" width="2" height="24.0"/><rect x="803.0" y="1105.0" width="2" height="21.0"/><rect x="814.0" y="1113.0" width="2" height="13.0"/><rect x="825.0" y="1115.0" width="2" height="11.0"/><rect x="836.0" y="1113.0" width="2" height="13.0"/><rect x="847.0" y="1118.0" width="2" height="8.0"/><rect x="858.0" y="1114.0" width="2" height="12.0"/><rect x="869.0" y="1088.0" width="2" height="38.0"/><rect x="880.0" y="1110.0" width="2" height="16.0"/><rect x="891.0" y="1121.0" width="2" height="5.0"/><rect x="902.0" y="1120.0" width="2" height="6.0"/><rect x="913.0" y="1113.0" width="2" height="13.0"/><rect x="924.0" y="1117.0" width="2" height="9.0"/><rect x="935.0" y="1117.0" width="2" height="9.0"/><rect x="946.0" y="1121.0" width="2" height="5.0"/><rect x="957.0" y="1120.0" width="2" height="6.0"/><rect x="968.0" y="1120.0" width="2" height="6.0"/><rect x="979.0" y="1116.0" width="2" height="10.0"/><rect x="990.0" y="1117.4" width="2" height="8.6"/><rect x="1001.0" y="1117.4" width="2" height="8.6"/><rect x="1012.0" y="1118.8" width="2" height="7.2"/><rect x="1023.0" y="1121.0" width="2" height="5.0"/><rect x="1034.0" y="1118.3" width="2" height="7.7"/><rect x="1045.0" y="1122.7" width="2" height="3.3"/><rect x="1056.0" y="1121.8" width="2" height="4.2"/><rect x="1067.0" y="1116.0" width="2" height="10.0"/><rect x="1078.0" y="1122.7" width="2" height="3.3"/><rect x="1089.0" y="1122.7" width="2" height="3.3"/><rect x="1100.0" y="1121.8" width="2" height="4.2"/><rect x="1111.0" y="1121.8" width="2" height="4.2"/><rect x="1122.0" y="1121.8" width="2" height="4.2"/><rect x="1133.0" y="1120.6" width="2" height="5.4"/><rect x="1144.0" y="1120.6" width="2" height="5.4"/><rect x="1155.0" y="1120.6" width="2" height="5.4"/><rect x="1166.0" y="1121.5" width="2" height="4.5"/><rect x="1177.0" y="1120.1" width="2" height="5.9"/><rect x="1188.0" y="1121.5" width="2" height="4.5"/><rect x="1199.0" y="1111.0" width="2" height="15.0"/><rect x="1210.0" y="1114.0" width="2" height="12.0"/><rect x="1221.0" y="1110.0" width="2" height="16.0"/><rect x="1232.0" y="1120.1" width="2" height="5.9"/><rect x="1243.0" y="1121.0" width="2" height="5.0"/><rect x="1254.0" y="1121.8" width="2" height="4.2"/><rect x="1265.0" y="1122.7" width="2" height="3.3"/><rect x="1276.0" y="1116.9" width="2" height="9.1"/></g>
<polyline points="12.5,1126.6 23.5,1126.6 34.5,1126.6 45.5,1126.6 56.5,1126.6 67.5,1126.6 78.5,1126.6 89.5,1126.6 100.5,1126.6 111.5,1126.6 122.5,1126.6 133.5,1126.6 144.5,1126.6 155.5,1125.1 166.5,1125.1 177.5,1125.1 188.5,1126.4 199.5,1125.3 210.5,1125.3 221.5,1126.4 232.5,1125.8 243.5,1124.9 254.5,1124.9 265.5,1124.9 276.5,1124.9 287.5,1124.9 298.5,1124.9 309.5,1124.9 320.5,1124.9 331.5,1124.9 342.5,1124.9 353.5,1124.9 364.5,1124.9 375.5,1124.9 386.5,1124.9 397.5,1124.9 408.5,1124.0 419.5,1123.3 430.5,1122.8 441.5,1122.8 452.5,1122.8 463.5,1122.8 474.5,1122.8 485.5,1124.5 496.5,1124.8 507.5,1124.8 518.5,1124.8 529.5,1124.8 540.5,1124.8 551.5,1124.8 562.5,1124.8 573.5,1124.8 584.5,1124.8 595.5,1124.8 606.5,1124.8 617.5,1125.4 628.5,1125.4 639.5,1125.4 650.5,1125.4 661.5,1125.4 672.5,1125.4 683.5,1125.4 694.5,1125.4 705.5,1125.4 716.5,1125.4 727.5,1125.4 738.5,1120.2 749.5,1118.5 760.5,1116.8 771.5,1116.3 782.5,1115.2 793.5,1114.2 804.5,1113.0 815.5,1113.0 826.5,1113.0 837.5,1113.0 848.5,1114.2 859.5,1114.2 870.5,1110.5 881.5,1110.5 892.5,1112.5 903.5,1112.7 914.5,1112.8 925.5,1113.0 936.5,1114.2 947.5,1115.4 958.5,1116.5 969.5,1116.5 980.5,1116.5 991.5,1116.5 1002.5,1117.0 1013.5,1117.4 1024.5,1117.4 1035.5,1117.4 1046.5,1118.0 1057.5,1118.8 1068.5,1119.4 1079.5,1120.1 1090.5,1120.1 1101.5,1120.2 1112.5,1120.2 1123.5,1120.3 1134.5,1120.4 1145.5,1120.4 1156.5,1121.0 1167.5,1121.5 1178.5,1121.2 1189.5,1121.0 1200.5,1119.2 1211.5,1118.2 1222.5,1117.4 1233.5,1118.6 1244.5,1119.2 1255.5,1119.2 1266.5,1119.2 1277.5,1119.2" fill="none" stroke="#9932cc" stroke-width="1.4"/>
<path d="M12 1126.6H1278" stroke="#d8692a" stroke-width="1.2"/>
<path d="M1692 1118.8L1698 1112.3H1741V1125.3H1698Z" fill="#9414c8" stroke="#5a0a7a" stroke-width="0.8"/>
<text x="1739" y="1123" font-size="10.6" fill="#fff" text-anchor="end">196,17</text>
<path d="M1692 1126L1698 1122.3H1715.5V1132.3H1698Z" fill="#ff4500"/>
<text x="1700" y="1130.2" font-size="10.6" fill="#fff">1,6</text>
<path d="M1692 1117L1698 1110.1H1725V1123.6H1698Z" fill="#0000cc"/>
<text x="1700" y="1121" font-size="10.6" fill="#fff">1403</text>
</svg>
</body></html>
